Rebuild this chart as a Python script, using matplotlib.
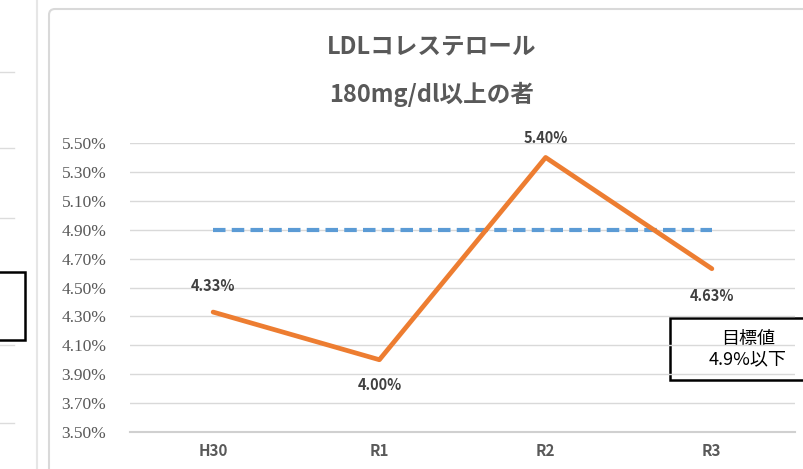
import matplotlib.pyplot as plt
from matplotlib.patches import FancyBboxPatch, Rectangle

# data
categories = ['H30', 'R1', 'R2', 'R3']
values = [4.33, 4.00, 5.40, 4.63]
target = [4.9, 4.9, 4.9, 4.9]
yticks = [3.5, 3.7, 3.9, 4.1, 4.3, 4.5, 4.7, 4.9, 5.1, 5.3, 5.5]

W, H = 804, 469
fig = plt.figure(figsize=(W / 100, H / 100), dpi=100)
fig.patch.set_facecolor('white')

# pieces of the neighbouring chart at the left edge
bg = fig.add_axes([0, 0, 1, 1])
bg.set_xlim(0, W)
bg.set_ylim(H, 0)
bg.axis('off')
for yy in [72, 148, 218, 345, 423]:
    bg.plot([0, 14], [yy, yy], color='#dcdcdc', lw=1)
bg.add_patch(Rectangle((-5, 272), 30, 68, fill=False, ec='black', lw=1.8))
bg.plot([37, 37], [0, H], color='#e6e6e6', lw=1.5)
bg.add_patch(FancyBboxPatch((49, 9), 800, 500, boxstyle='round,pad=0,rounding_size=6',
                            fc='white', ec='#d9d9d9', lw=1.5))

# title
bg.text(432, 46, 'LDLコレステロール', ha='center', va='center', fontsize=17,
        color='#595959', family=['Noto Sans CJK JP'], fontweight='bold')
bg.text(432, 94, '180mg/dl以上の者', ha='center', va='center', fontsize=17,
        color='#595959', family=['Noto Sans CJK JP'], fontweight='bold')

ax = fig.add_axes([130 / W, 1 - 432 / H, 665 / W, 289 / H])
ax.set_facecolor('none')
x = list(range(len(categories)))
ax.plot(x, target, color='#5B9BD5', lw=3, dashes=(3, 1.5), solid_capstyle='butt', zorder=3)
ax.plot(x, values, color='#ED7D31', lw=3.4, solid_capstyle='round', zorder=4)

ax.set_xlim(-0.5, 3.5)
ax.set_ylim(3.5, 5.5)
ax.set_yticks(yticks)
ax.set_yticklabels(['%.2f%%' % v for v in yticks], family='Liberation Serif',
                   fontsize=12.5, color='#595959')
ax.set_xticks(x)
ax.set_xticklabels(categories, family=['Noto Sans CJK JP'], fontsize=11,
                   color='#595959', fontweight='bold')
ax.tick_params(length=0, pad=8)
ax.tick_params(axis='y', pad=17)
ax.grid(axis='y', color='#d9d9d9', lw=1)
for s in ['top', 'right', 'left']:
    ax.spines[s].set_visible(False)
ax.spines['bottom'].set_color('#d0d0d0')
ax.spines['bottom'].set_linewidth(1.5)

# data labels
offsets = [19, -18, 14, -20]
for xi, v, off in zip(x, values, offsets):
    ax.annotate('%.2f%%' % v, (xi, v), xytext=(0, off), textcoords='offset points',
                ha='center', va='center', fontsize=10.5, color='#404040',
                family=['Noto Sans CJK JP'], fontweight='bold')

# target box
bg.add_patch(Rectangle((670, 318), 140, 62, fc='white', ec='black', lw=1.8, zorder=5))
bg.text(748, 349, '目標値\n4.9%以下', ha='center', va='center', fontsize=13,
        multialignment='center', family=['Noto Sans CJK JP'], color='black',
        zorder=6, linespacing=1.15)

fig.savefig('out.png', dpi=100)
